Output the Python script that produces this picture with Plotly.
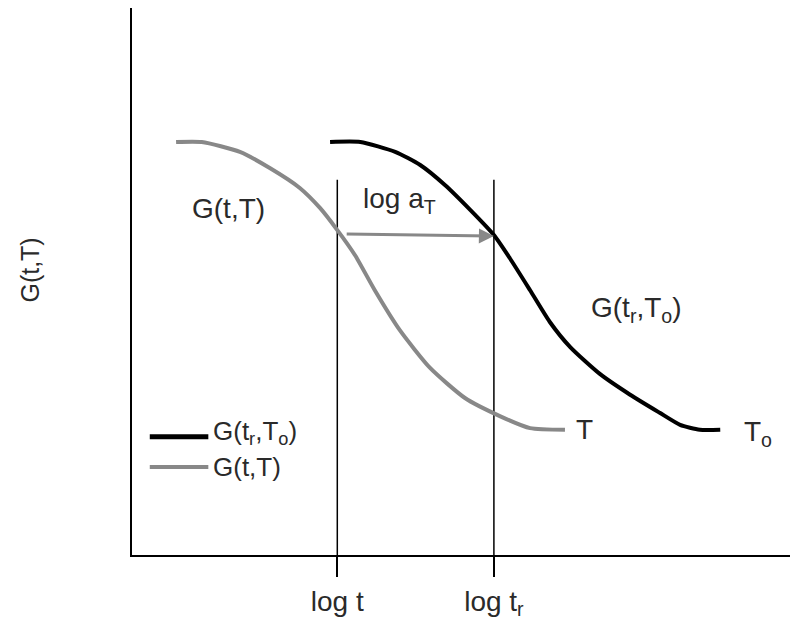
import plotly.graph_objects as go

# Relaxation modulus curves in log-time units (arbitrary scale)
logt_T = [0.67, 1.06, 1.64, 2.10, 2.55, 2.86, 3.12, 3.39, 3.69, 4.07, 4.53, 5.06, 5.59, 6.05, 6.58]
G_T = [7.55, 7.55, 7.37, 7.07, 6.71, 6.34, 5.94, 5.48, 4.84, 4.11, 3.42, 2.87, 2.54, 2.32, 2.29]

logt_To = [3.01, 3.47, 4.00, 4.38, 4.76, 5.14, 5.50, 5.74, 6.05, 6.35, 6.66, 7.11, 7.57, 8.02, 8.33, 8.63, 8.94]
G_To = [7.55, 7.55, 7.37, 7.13, 6.76, 6.31, 5.85, 5.43, 4.84, 4.26, 3.80, 3.31, 2.93, 2.60, 2.38, 2.29, 2.29]

# Marked times on the log axis
tick_vals = [3.12, 5.50]
tick_text = ["log t", "log t<sub>r</sub>"]
marker_top = 6.86

# Shift arrow (log a_T)
shift_start = (3.24, 5.87)
shift_end = (5.50, 5.83)

FONT = "Liberation Sans, Arial, sans-serif"
GREY = "#888888"
TXT = "#2a2a2a"
FS = 28

fig = go.Figure()
fig.add_trace(go.Scatter(x=logt_T, y=G_T, mode="lines",
                         line=dict(color=GREY, width=4),
                         line_shape="spline", line_smoothing=0.6,
                         showlegend=False, hoverinfo="skip"))
fig.add_trace(go.Scatter(x=logt_To, y=G_To, mode="lines",
                         line=dict(color="black", width=4),
                         line_shape="spline", line_smoothing=0.6,
                         showlegend=False, hoverinfo="skip"))

# vertical guide lines at log t and log t_r
for xv in tick_vals:
    fig.add_shape(type="line", x0=xv, x1=xv, y0=0, y1=marker_top,
                  line=dict(color="black", width=1.5), layer="below")

# horizontal shift arrow
fig.add_annotation(x=shift_end[0], y=shift_end[1], ax=shift_start[0], ay=shift_start[1],
                   xref="x", yref="y", axref="x", ayref="y", text="",
                   showarrow=True, arrowhead=2, arrowsize=1, arrowwidth=3,
                   arrowcolor=GREY, standoff=0)

labels = [
    (1.46, 6.34, "G(t,T)"),
    (4.06, 6.49, "log a<sub>T</sub>"),
    (7.66, 4.48, "G(t<sub>r</sub>,T<sub>o</sub>)"),
    (6.88, 2.29, "T"),
    (9.51, 2.23, "T<sub>o</sub>"),
]
for x, y, txt in labels:
    fig.add_annotation(x=x, y=y, text=txt, showarrow=False,
                       font=dict(family=FONT, size=FS, color=TXT))

# hand-drawn key
key = [("black", 5, "G(t<sub>r</sub>,T<sub>o</sub>)", 2.16, 2.24, 26),
       (GREY, 4, "G(t,T)", 1.61, 1.61, 26)]
for color, w, txt, yl, yt, fs in key:
    fig.add_shape(type="line", x0=0.27, x1=1.16, y0=yl, y1=yl,
                  line=dict(color=color, width=w))
    fig.add_annotation(x=1.20, y=yt, text=txt, showarrow=False, xanchor="left",
                       font=dict(family=FONT, size=fs, color=TXT))

# vertical axis title
fig.add_annotation(x=-0.155, y=0.52, xref="paper", yref="paper", text="G(t,T)",
                   textangle=-90, showarrow=False, xanchor="center", yanchor="middle",
                   font=dict(family=FONT, size=25, color=TXT))

fig.update_layout(
    width=805, height=621,
    margin=dict(l=132, r=15, t=8, b=66),
    paper_bgcolor="white", plot_bgcolor="white",
    font=dict(family=FONT, size=FS, color=TXT),
    xaxis=dict(range=[0, 10], showgrid=False, zeroline=False, automargin=False,
               showline=True, linecolor="black", linewidth=2,
               tickvals=tick_vals, ticktext=tick_text,
               ticks="outside", ticklen=20, tickwidth=1.5, tickcolor="black",
               tickfont=dict(family=FONT, size=FS, color=TXT)),
    yaxis=dict(range=[0, 10], showgrid=False, zeroline=False, automargin=False,
               showline=True, linecolor="black", linewidth=2,
               showticklabels=False, ticks=""),
)

fig.write_html("out.html")
